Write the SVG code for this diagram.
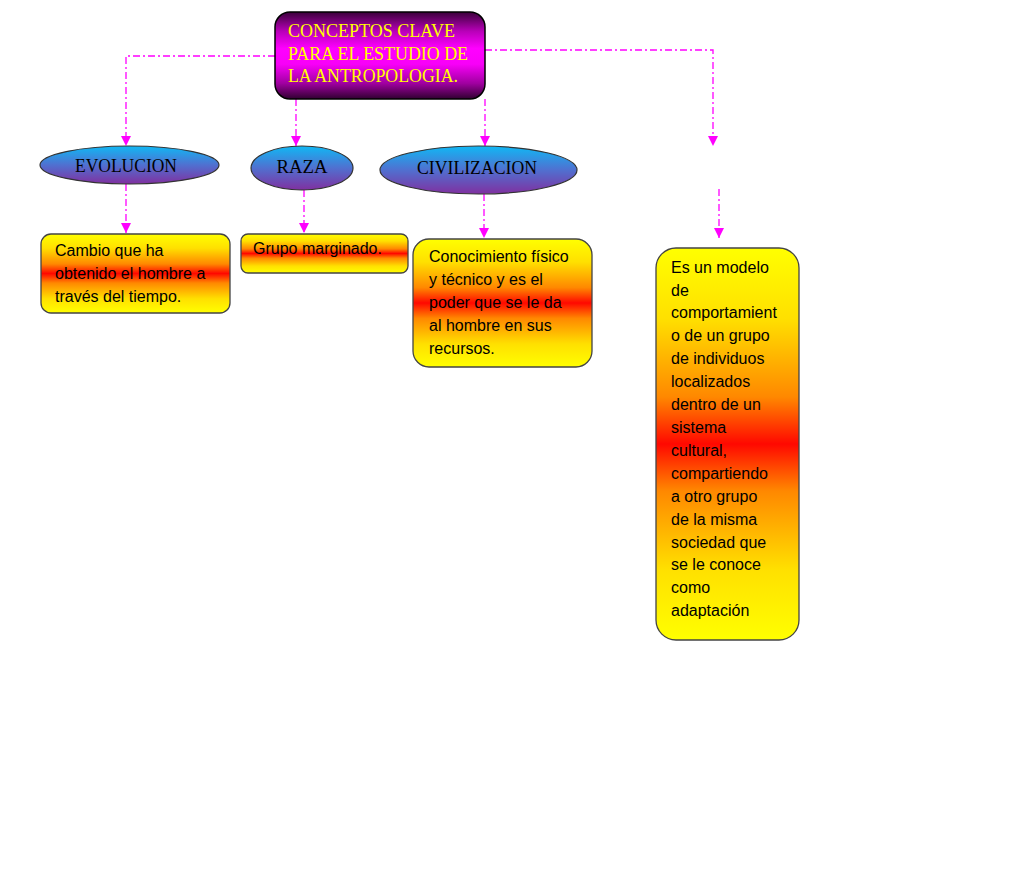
<svg xmlns="http://www.w3.org/2000/svg" width="1024" height="884" viewBox="0 0 1024 884">
<defs>
<linearGradient id="gMain" x1="0" y1="0" x2="0" y2="1">
<stop offset="0" stop-color="#3a003a"/>
<stop offset="0.22" stop-color="#b800b8"/>
<stop offset="0.42" stop-color="#ff00ff"/>
<stop offset="0.6" stop-color="#f800f8"/>
<stop offset="0.82" stop-color="#a000a0"/>
<stop offset="1" stop-color="#300030"/>
</linearGradient>
<linearGradient id="gEll" x1="0" y1="0" x2="0" y2="1">
<stop offset="0" stop-color="#10b8f4"/>
<stop offset="0.5" stop-color="#5070d0"/>
<stop offset="1" stop-color="#8030a0"/>
</linearGradient>
<linearGradient id="gBox" x1="0" y1="0" x2="0" y2="1">
<stop offset="0" stop-color="#ffff00"/>
<stop offset="0.18" stop-color="#ffe000"/>
<stop offset="0.38" stop-color="#ff8800"/>
<stop offset="0.5" stop-color="#ff0800"/>
<stop offset="0.62" stop-color="#ff8800"/>
<stop offset="0.82" stop-color="#ffe000"/>
<stop offset="1" stop-color="#ffff00"/>
</linearGradient>
<marker id="arr" viewBox="0 0 10 10" refX="10" refY="5" markerWidth="10" markerHeight="10" markerUnits="userSpaceOnUse" orient="auto">
<path d="M0,0 L10,5 L0,10 Z" fill="#ff00ff"/>
</marker>
<style>
.c{fill:none;stroke:#ff00ff;stroke-width:1.3;stroke-dasharray:7 3 2 3}
.ell{fill:url(#gEll);stroke:#333;stroke-width:1.2}
.box{fill:url(#gBox);stroke:#444;stroke-width:1.3}
.et{font-family:"Liberation Serif",serif;font-size:19px;fill:#000;text-anchor:middle}
.bt{font-family:"Liberation Sans",sans-serif;font-size:16px;fill:#000}
.mt{font-family:"Liberation Serif",serif;font-size:19px;fill:#ffff00}
</style>
</defs>
<g id="connectors">
<path class="c" d="M275,56 H126 V146" marker-end="url(#arr)"/>
<path class="c" d="M296,99 V146" marker-end="url(#arr)"/>
<path class="c" d="M485,99 V146" marker-end="url(#arr)"/>
<path class="c" d="M485,50 H713 V146" marker-end="url(#arr)"/>
<path class="c" d="M719,189 V238" marker-end="url(#arr)"/>
<path class="c" d="M126,184 V233" marker-end="url(#arr)"/>
<path class="c" d="M304,190 V233" marker-end="url(#arr)"/>
<path class="c" d="M484,194 V238" marker-end="url(#arr)"/>
</g>
<g id="main">
<rect x="275" y="12" width="210" height="87" rx="15" fill="url(#gMain)" stroke="#000" stroke-width="1.5"/>
<text class="mt" x="288" y="37" textLength="167" lengthAdjust="spacingAndGlyphs">CONCEPTOS CLAVE</text>
<text class="mt" x="288" y="60" textLength="180" lengthAdjust="spacingAndGlyphs">PARA EL ESTUDIO DE</text>
<text class="mt" x="288" y="82" textLength="170" lengthAdjust="spacingAndGlyphs">LA ANTROPOLOGIA.</text>
</g>
<g id="evolucion">
<ellipse class="ell" cx="129.5" cy="165" rx="89.5" ry="19"/>
<text class="et" x="126" y="172" textLength="102" lengthAdjust="spacingAndGlyphs">EVOLUCION</text>
</g>
<g id="raza">
<ellipse class="ell" cx="302" cy="168" rx="51" ry="22"/>
<text class="et" x="302" y="173" textLength="51" lengthAdjust="spacingAndGlyphs">RAZA</text>
</g>
<g id="civilizacion">
<ellipse class="ell" cx="478.5" cy="170" rx="98.5" ry="24"/>
<text class="et" x="477" y="174" textLength="120" lengthAdjust="spacingAndGlyphs">CIVILIZACION</text>
</g>
<g id="def-evolucion">
<rect class="box" x="41" y="234" width="189" height="79" rx="10"/>
<text class="bt" x="55" y="256">Cambio que ha</text>
<text class="bt" x="55" y="279">obtenido el hombre a</text>
<text class="bt" x="55" y="302">través del tiempo.</text>
</g>
<g id="def-raza">
<rect class="box" x="241" y="234" width="167" height="39" rx="7"/>
<text class="bt" x="253" y="254">Grupo marginado.</text>
</g>
<g id="def-civilizacion">
<rect class="box" x="413" y="239" width="179" height="128" rx="16"/>
<text class="bt" x="429" y="262">Conocimiento físico</text>
<text class="bt" x="429" y="285">y técnico y es el</text>
<text class="bt" x="429" y="308">poder que se le da</text>
<text class="bt" x="429" y="331">al hombre en sus</text>
<text class="bt" x="429" y="354">recursos.</text>
</g>
<g id="def-cultura">
<rect class="box" x="656" y="248" width="143" height="392" rx="20"/>
<text class="bt" x="671" y="273">Es un modelo</text>
<text class="bt" x="671" y="296">de</text>
<text class="bt" x="671" y="318">comportamient</text>
<text class="bt" x="671" y="341">o de un grupo</text>
<text class="bt" x="671" y="364">de individuos</text>
<text class="bt" x="671" y="387">localizados</text>
<text class="bt" x="671" y="410">dentro de un</text>
<text class="bt" x="671" y="433">sistema</text>
<text class="bt" x="671" y="456">cultural,</text>
<text class="bt" x="671" y="479">compartiendo</text>
<text class="bt" x="671" y="502">a otro grupo</text>
<text class="bt" x="671" y="525">de la misma</text>
<text class="bt" x="671" y="548">sociedad que</text>
<text class="bt" x="671" y="570">se le conoce</text>
<text class="bt" x="671" y="593">como</text>
<text class="bt" x="671" y="616">adaptación</text>
</g>
</svg>
